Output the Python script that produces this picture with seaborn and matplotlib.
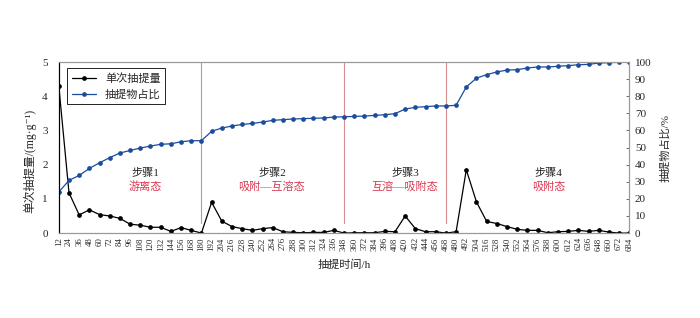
import numpy as np
import pandas as pd
import matplotlib
matplotlib.use("Agg")
import matplotlib.pyplot as plt
import seaborn as sns

hours = list(range(12, 685, 12))

single_yield = [
    4.30, 1.18, 0.53, 0.68, 0.54, 0.50, 0.43, 0.26, 0.23, 0.17,
    0.17, 0.05, 0.16, 0.08, 0.00, 0.90, 0.35, 0.19, 0.13, 0.08,
    0.13, 0.16, 0.04, 0.02, 0.01, 0.02, 0.02, 0.08, 0.00, 0.01,
    0.01, 0.01, 0.05, 0.04, 0.50, 0.13, 0.04, 0.04, 0.00, 0.04,
    1.85, 0.91, 0.34, 0.28, 0.19, 0.11, 0.08, 0.08, 0.01, 0.04,
    0.05, 0.08, 0.05, 0.08, 0.03, 0.00, 0.00,
]

cum_ratio = [
    24.0, 30.8, 33.7, 37.8, 41.1, 44.1, 46.8, 48.3, 49.7, 50.9,
    51.9, 52.2, 53.4, 54.0, 54.0, 59.5, 61.4, 62.6, 63.5, 64.1,
    64.9, 65.9, 66.3, 66.7, 66.9, 67.1, 67.3, 67.8, 68.0, 68.2,
    68.4, 68.8, 69.2, 69.8, 72.5, 73.5, 73.9, 74.3, 74.3, 74.7,
    85.4, 90.6, 92.6, 94.2, 95.3, 95.5, 96.5, 97.1, 97.1, 97.5,
    97.9, 98.4, 98.6, 99.4, 99.6, 99.8, 100.0,
]

step_bounds = [180, 348, 468]
step_names = ["步骤1", "步骤2", "步骤3", "步骤4"]
step_states = ["游离态", "吸附—互溶态", "互溶—吸附态", "吸附态"]
step_x = [114, 263, 420, 589]

df = pd.DataFrame({"hours": hours, "single": single_yield, "ratio": cum_ratio})

sns.set_theme(style="white")
plt.rcParams["font.family"] = ["Liberation Serif", "Noto Sans CJK SC", "DejaVu Sans"]
plt.rcParams["axes.unicode_minus"] = False

fig = plt.figure(figsize=(7.0, 3.18), dpi=100)
ax = fig.add_axes([0.084, 0.267, 0.815, 0.538])
ax2 = ax.twinx()

black = "#000000"
blue = "#1c4c9c"
red = "#d93a52"

sns.lineplot(data=df, x="hours", y="single", ax=ax, color=black, lw=0.9,
             marker="o", markersize=3.4, markeredgewidth=0, label="单次抽提量",
             legend=False)
sns.lineplot(data=df, x="hours", y="ratio", ax=ax2, color=blue, lw=0.9,
             marker="o", markersize=3.4, markeredgewidth=0, label="抽提物占比",
             legend=False)

# step boundaries
for b in step_bounds:
    ax.plot([b, b], [0.3, 5], color="#d98c8c", lw=0.8, zorder=0)

for xs, nm, st in zip(step_x, step_names, step_states):
    ax.text(xs, 1.75, nm, ha="center", va="center", fontsize=8, color="#222222")
    ax.text(xs, 1.35, st, ha="center", va="center", fontsize=8, color=red)

ax.set_xlim(12, 684)
ax.set_ylim(0, 5)
ax2.set_ylim(0, 100)
ax.set_xticks(hours)
ax.set_xticklabels([str(h) for h in hours], rotation=90, fontsize=6.3)
ax.set_yticks([0, 1, 2, 3, 4, 5])
ax2.set_yticks(range(0, 101, 10))
ax.tick_params(axis="y", labelsize=8, direction="in", length=0, pad=8)
ax.tick_params(axis="x", direction="in", length=2.5, width=0.6, color="#555555", pad=3)
ax2.tick_params(axis="y", labelsize=8, direction="in", length=2.5, width=0.6,
                color="#555555", pad=4)

ax.set_xlabel("抽提时间/h", fontsize=8)
ax.xaxis.set_label_coords(0.5, -0.155)
ax.set_ylabel("单次抽提量/(mg·g⁻¹)", fontsize=8.5)
ax.yaxis.set_label_coords(-0.04, 0.42)
ax2.set_ylabel("抽提物占比/%", fontsize=8, rotation=90, labelpad=6)

for a in (ax, ax2):
    for side in ["top", "right", "bottom"]:
        a.spines[side].set_color("#999999")
        a.spines[side].set_linewidth(0.8)
    a.spines["left"].set_color("#000000")
    a.spines["left"].set_linewidth(0.8)
    a.grid(False)

h1, l1 = ax.get_legend_handles_labels()
h2, l2 = ax2.get_legend_handles_labels()
leg = ax.legend(h1 + h2, l1 + l2, loc="upper left", fontsize=8, frameon=True,
                fancybox=False, edgecolor="#000000", framealpha=1,
                borderpad=0.4, handlelength=2.2, labelspacing=0.5,
                bbox_to_anchor=(0.005, 0.995))
leg.get_frame().set_linewidth(0.6)

fig.savefig("out.png", dpi=100)
